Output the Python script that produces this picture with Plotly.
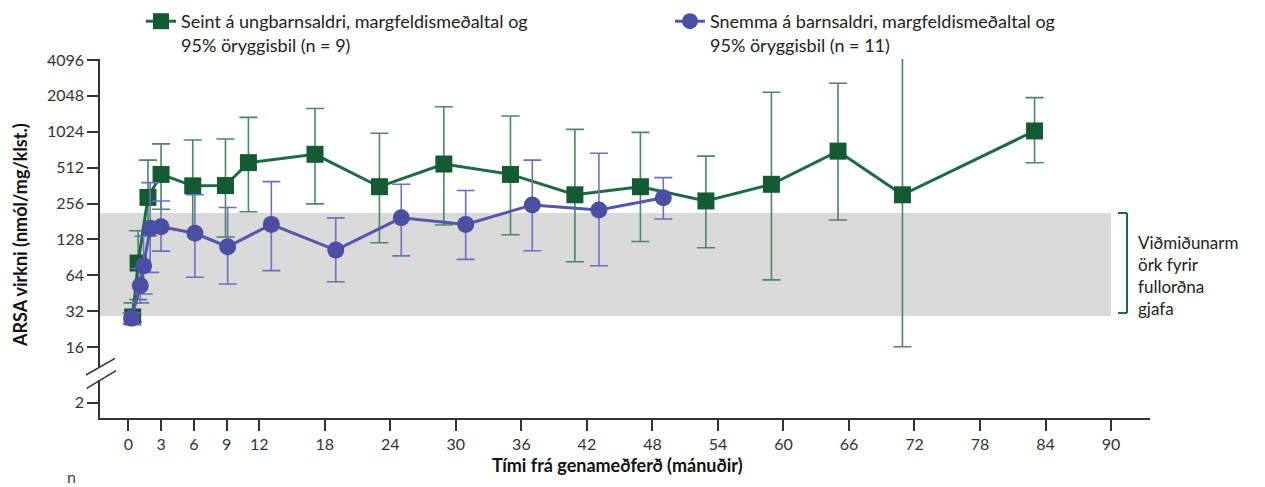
import math
import plotly.graph_objects as go

# ---------------- data ----------------
green_months = [0.4, 0.9, 1.8, 3.0, 5.9, 8.9, 11.0, 17.1, 23.0, 28.9, 35.0, 40.9, 46.9, 52.9, 58.9, 65.0, 70.9, 83.0]
green_mean = [28.6, 81, 288, 449, 360, 362, 564, 662, 354, 549, 449, 303, 354, 269, 371, 704, 303, 1040]
green_upper = [37.5, 151, 592, 810, 873, 891, 1351, 1607, 995, 1661, 1389, 1073, 1012, 639, 2196, 2610, 5700, 1978]
green_lower = [26, 40, 137, 229, 148, 134, 218, 254, 120, 169, 140, 83, 123, 109, 58.5, 186, 16.1, 563]

blue_months = [0.3, 1.1, 1.4, 2.0, 3.0, 6.1, 9.1, 13.1, 19.0, 25.0, 30.9, 37.0, 43.1, 49.0]
blue_mean = [27.9, 52.4, 77, 159, 163, 144, 111, 171, 104, 194, 171, 249, 226, 286]
blue_upper = [31, 73, 136, 383, 269, 303, 237, 391, 194, 371, 329, 592, 676, 422]
blue_lower = [25, 37.5, 44.6, 67.6, 102, 61.5, 54, 70, 56.5, 93, 87, 102.6, 77, 190]

x_ticks = [0, 3, 6, 9, 12, 18, 24, 30, 36, 42, 48, 54, 60, 66, 72, 78, 84, 90]
y_ticks = [16, 32, 64, 128, 256, 512, 1024, 2048, 4096]
y_low_ticks = [2]
ref_range = [29.1, 213]   # adult donor reference range
ref_x_end = 90

green_name = "Seint á ungbarnsaldri, margfeldismeðaltal og<br>95% öryggisbil (n = 9)"
blue_name = "Snemma á barnsaldri, margfeldismeðaltal og<br>95% öryggisbil (n = 11)"

# ---------------- style ----------------
FONT = "Lato"
TXT = "#333333"
G_MARK = "#145a32"
G_LINE = "#1f6a40"
G_ERR = "#4a8566"
B_MARK = "#4a4fa3"
B_LINE = "#5357ad"
B_ERR = "#6d70bd"

fig = go.Figure()

def add_series(xs, ys, up, lo, name, mcol, lcol, ecol, symbol, legend):
    fig.add_trace(go.Scatter(
        x=xs, y=ys, mode="lines+markers", name=name, legend=legend,
        line=dict(color=lcol, width=3),
        marker=dict(symbol=symbol, size=17, color=mcol, line=dict(width=0)),
        error_y=dict(type="data", symmetric=False,
                     array=[u - m for u, m in zip(up, ys)],
                     arrayminus=[m - l for m, l in zip(ys, lo)],
                     color=ecol, thickness=1.6, width=9),
        cliponaxis=True,
    ))

add_series(green_months, green_mean, green_upper, green_lower, green_name,
           G_MARK, G_LINE, G_ERR, "square", "legend")
add_series(blue_months, blue_mean, blue_upper, blue_lower, blue_name,
           B_MARK, B_LINE, B_ERR, "circle", "legend2")

# empty trace to create the lower (broken) axis subplot
fig.add_trace(go.Scatter(x=[], y=[], xaxis="x", yaxis="y2", showlegend=False))

# ---------------- layout geometry ----------------
# page body has an 8px margin, so the figure is drawn 8px smaller and offset
OFF = 8
W, H = 1265 - OFF, 487 - OFF
L = 100 - OFF
T = 59 - OFF
bottom_px = 418            # x axis position in window px
B = H - (bottom_px - OFF)
R = W - (1150 - OFF)
plot_h = bottom_px - 59     # 359
plot_w = 1150 - 100
main_bottom_px = 367
low_top_px = 380
ppd = 35.875                # px per doubling
y4096_px = 60

main_lo = 12 - (main_bottom_px - y4096_px) / ppd
main_hi = 12 + (y4096_px - 59) / ppd
low_hi = 1 + (402.7 - low_top_px) / ppd
low_lo = 1 - (bottom_px - 402.7) / ppd

x0_px, ppm = 128.3, 10.919
x_lo = (100 - x0_px) / ppm
x_hi = (1150 - x0_px) / ppm

def px2paper_x(px):
    return (px - 100) / plot_w

def px2paper_y(py):
    return (bottom_px - py) / plot_h

axis_common = dict(showline=True, linecolor=TXT, linewidth=1.5, ticks="outside",
                   ticklen=11, tickwidth=1.5, tickcolor=TXT, showgrid=False, zeroline=False,
                   tickfont=dict(family=FONT, size=16, color=TXT))

fig.update_layout(
    width=W, height=H,
    margin=dict(l=L, r=R, t=T, b=B, autoexpand=False),
    paper_bgcolor="white", plot_bgcolor="white",
    font=dict(family=FONT, color=TXT),
    xaxis=dict(range=[x_lo, x_hi], tickvals=x_ticks, anchor="y2", **axis_common),
    yaxis=dict(type="log", range=[main_lo * math.log10(2), main_hi * math.log10(2)],
               tickvals=y_ticks, ticktext=[str(v) for v in y_ticks],
               domain=[px2paper_y(main_bottom_px), 1], anchor="x", **axis_common),
    yaxis2=dict(type="log", range=[low_lo * math.log10(2), low_hi * math.log10(2)],
                tickvals=y_low_ticks, ticktext=[str(v) for v in y_low_ticks],
                domain=[0, px2paper_y(low_top_px)], anchor="x", **axis_common),
    legend=dict(orientation="v", x=px2paper_x(141), y=px2paper_y(3), xanchor="left", yanchor="top",
                valign="top", font=dict(family=FONT, size=18, color="#222222"),
                bgcolor="rgba(0,0,0,0)", tracegroupgap=0),
    legend2=dict(orientation="v", x=px2paper_x(670), y=px2paper_y(3), xanchor="left", yanchor="top",
                 valign="top", font=dict(family=FONT, size=18, color="#222222"),
                 bgcolor="rgba(0,0,0,0)", tracegroupgap=0),
    showlegend=True,
)

shapes = []
# reference band
shapes.append(dict(type="rect", xref="x", yref="y", x0=x_lo, x1=ref_x_end,
                   y0=ref_range[0], y1=ref_range[1], fillcolor="#d9d9d9",
                   line=dict(width=0), layer="below"))
# bracket
bx0 = (1118 - x0_px) / ppm
bx1 = (1127 - x0_px) / ppm
bcol = "#1f6a40"
shapes.append(dict(type="line", xref="x", yref="y", x0=bx0, x1=bx1, y0=ref_range[1], y1=ref_range[1],
                   line=dict(color=bcol, width=2)))
shapes.append(dict(type="line", xref="x", yref="y", x0=bx1, x1=bx1, y0=ref_range[0] * 1.06, y1=ref_range[1],
                   line=dict(color=bcol, width=2)))
shapes.append(dict(type="line", xref="x", yref="y", x0=bx0, x1=bx1, y0=ref_range[0] * 1.06, y1=ref_range[0] * 1.06,
                   line=dict(color=bcol, width=2)))
# axis break slashes
for (xa, ya, xb, yb) in [(86, 375, 115, 358.3), (86.7, 388.3, 116, 370.7)]:
    shapes.append(dict(type="line", xref="paper", yref="paper",
                       x0=px2paper_x(xa), y0=px2paper_y(ya), x1=px2paper_x(xb), y1=px2paper_y(yb),
                       line=dict(color=TXT, width=1.5)))
fig.update_layout(shapes=shapes)

annotations = [
    dict(text="<b>ARSA virkni (nmól/mg/klst.)</b>", xref="paper", yref="paper",
         x=px2paper_x(20), y=px2paper_y(235), textangle=-90, showarrow=False,
         xanchor="center", yanchor="middle", font=dict(family=FONT, size=18, color="#111111")),
    dict(text="<b>Tími frá genameðferð (mánuðir)</b>", xref="paper", yref="paper",
         x=px2paper_x(617), y=px2paper_y(465), showarrow=False,
         xanchor="center", yanchor="middle", font=dict(family=FONT, size=18, color="#111111")),
    dict(text="Viðmiðunarm<br>örk fyrir<br>fullorðna<br>gjafa", xref="paper", yref="paper",
         x=px2paper_x(1136), y=px2paper_y(275.5), showarrow=False, align="left",
         xanchor="left", yanchor="middle", font=dict(family=FONT, size=17, color="#222222")),
    dict(text="n", xref="paper", yref="paper", x=px2paper_x(65), y=px2paper_y(476),
         showarrow=False, xanchor="left", yanchor="middle",
         font=dict(family=FONT, size=16, color="#444444")),
]
fig.update_layout(annotations=annotations)

fig.write_html("out.html")
